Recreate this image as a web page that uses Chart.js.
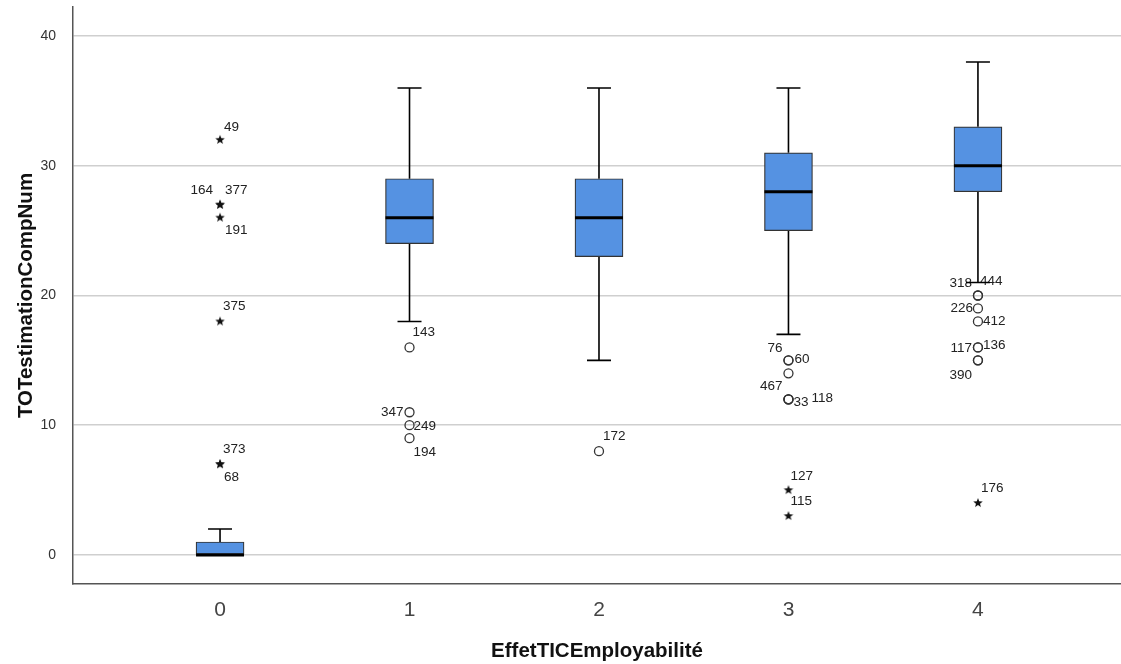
<!DOCTYPE html>
<html><head><meta charset="utf-8">
<script src="https://cdn.jsdelivr.net/npm/chart.js@4.4.0/dist/chart.umd.min.js"></script>
<style>html,body{margin:0;padding:0;background:#fff;overflow:hidden}</style>
</head><body>
<canvas id="c" width="1121" height="664"></canvas>
<script>
// ---- data ----
const categories = ['0','1','2','3','4'];
const whiskerLow  = [0,18,15,17,21];
const q1          = [0,24,23,25,28];
const median      = [0,26,26,28,30];
const q3          = [1,29,29,31,33];
const whiskerHigh = [2,36,36,36,38];
const outlierCat   = [1,1,1,1, 2, 3,3,3,3,3,3, 4,4,4,4,4,4,4,4];
const outlierValue = [16,11,10,9, 8, 15,15,14,12,12,12, 20,20,19,18,16,16,15,15];
const outlierId    = ['143','347','249','194','172','76','60','','467','33','118','318','444','226','412','117','136','390',''];
const extremeCat   = [0,0,0,0,0,0,0,3,3,4];
const extremeValue = [32,27,27,26,18,7,7,5,3,4];
const extremeId    = ['49','164','377','191','375','373','68','127','115','176'];
const yTicks = [0,10,20,30,40];
const xTitle = 'EffetTICEmployabilité';
const yTitle = 'TOTestimationCompNum';

// ---- layout of id labels (pixel offsets from marker, anchor side) ----
const outlierLabelPos = [[3,-15,'l'],[-6,0,'r'],[4,1,'l'],[4,14,'l'],[4,-15,'l'],[-6,-12,'r'],[6,-1,'l'],[0,0,'l'],[-6,-13,'r'],[5,3,'l'],[23,-1,'l'],[-6,-12,'r'],[2,-14,'l'],[-5,0,'r'],[5,0,'l'],[-6,1,'r'],[5,-2,'l'],[-6,15,'r'],[0,0,'l']];
const extremeLabelPos = [[4,-13,'l'],[-7,-14,'r'],[5,-14,'l'],[5,13,'l'],[3,-15,'l'],[3,-15,'l'],[4,13,'l'],[2,-14,'l'],[2,-15,'l'],[3,-15,'l']];

const FONT = '"Liberation Sans", Arial, sans-serif';
Chart.defaults.font.family = FONT;

const catPx = 189.5;
const capHalf = 12 / catPx;
const boxHalf = 24 / catPx;

const whiskerPts = [];
const medianPts = [];
categories.forEach((c, i) => {
  whiskerPts.push({x:i, y:q3[i]}, {x:i, y:whiskerHigh[i]}, {x:i, y:null});
  whiskerPts.push({x:i-capHalf, y:whiskerHigh[i]}, {x:i+capHalf, y:whiskerHigh[i]}, {x:i, y:null});
  if (whiskerLow[i] < q1[i]) {
    whiskerPts.push({x:i, y:q1[i]}, {x:i, y:whiskerLow[i]}, {x:i, y:null});
    whiskerPts.push({x:i-capHalf, y:whiskerLow[i]}, {x:i+capHalf, y:whiskerLow[i]}, {x:i, y:null});
  }
  medianPts.push({x:i-boxHalf, y:median[i]}, {x:i+boxHalf, y:median[i]}, {x:i, y:null});
});

function makeStar(r) {
  const s = Math.ceil(r * 2 + 2);
  const c = document.createElement('canvas');
  c.width = c.height = s;
  const g = c.getContext('2d');
  g.fillStyle = '#111';
  g.beginPath();
  for (let k = 0; k < 10; k++) {
    const a = -Math.PI / 2 + k * Math.PI / 5;
    const rr = (k % 2) ? r * 0.42 : r;
    g.lineTo(s / 2 + rr * Math.cos(a), s / 2 + rr * Math.sin(a));
  }
  g.closePath();
  g.fill();
  return c;
}
const starImg = makeStar(5);

const idLabels = {
  id: 'idLabels',
  beforeDatasetsDraw(chart) {
    const {ctx, scales:{x, y}} = chart;
    ctx.save();
    ctx.font = '13.5px ' + FONT;
    ctx.fillStyle = '#222';
    ctx.textBaseline = 'middle';
    const draw = (cats, vals, ids, pos) => {
      ids.forEach((t, k) => {
        if (!t) return;
        const px = x.getPixelForValue(cats[k]);
        const py = y.getPixelForValue(vals[k]);
        const [dx, dy, side] = pos[k];
        ctx.textAlign = side === 'r' ? 'right' : 'left';
        ctx.fillText(t, px + dx, py + dy);
      });
    };
    draw(outlierCat, outlierValue, outlierId, outlierLabelPos);
    draw(extremeCat, extremeValue, extremeId, extremeLabelPos);
    ctx.restore();
  }
};

new Chart(document.getElementById('c'), {
  type: 'bar',
  data: {
    datasets: [
      { type:'line', data: medianPts, borderColor:'#000', borderWidth:3, pointRadius:0, spanGaps:false, order:0 },
      { type:'scatter', data: outlierValue.map((v,k)=>({x:outlierCat[k], y:v})), pointStyle:'circle', pointRadius:4.5,
        pointBackgroundColor:'rgba(255,255,255,0)', pointBorderColor:'#333', pointBorderWidth:1.3, order:1 },
      { type:'scatter', data: extremeValue.map((v,k)=>({x:extremeCat[k], y:v})), pointStyle: starImg, pointRadius:5, order:1 },
      { type:'bar', data: categories.map((c,i)=>({x:i, y:[q1[i], q3[i]]})), barThickness:48, backgroundColor:'#5592E2',
        borderColor:'#333', borderWidth:1.2, borderSkipped:false, order:2 },
      { type:'line', data: whiskerPts, borderColor:'#000', borderWidth:1.6, pointRadius:0, spanGaps:false, order:3 }
    ]
  },
  options: {
    responsive:false,
    animation:false,
    events:[],
    layout:{ autoPadding:false, padding:{ top:7, left:0, right:0, bottom:0 } },
    plugins:{ legend:{display:false}, tooltip:{enabled:false} },
    scales:{
      x:{
        type:'linear', min:-0.776, max:4.755, offset:false,
        afterBuildTicks: s => { s.ticks = categories.map((c,i)=>({value:i})); },
        afterFit: s => { s.height = 80; s.paddingLeft = 0; s.paddingRight = 0; },
        ticks:{ callback: v => categories[v], font:{size:21}, color:'#444', padding:14, autoSkip:false, maxRotation:0 },
        grid:{ display:false, drawTicks:false, offset:false },
        border:{ color:'#555', width:1.5 },
        title:{ display:true, text:xTitle, font:{size:20.5, weight:'bold'}, color:'#111', padding:{top:0, bottom:0} }
      },
      y:{
        type:'linear', min:-2.24, max:42.24,
        afterBuildTicks: s => { s.ticks = yTicks.map(v=>({value:v})); },
        afterFit: s => { s.width = 73; s.paddingTop = 0; s.paddingBottom = 0; },
        ticks:{ font:{size:14}, color:'#333', padding:17 },
        grid:{ color:'#cfcfcf', lineWidth:1.5, drawTicks:false },
        border:{ color:'#555', width:1.5 },
        title:{ display:true, text:yTitle, font:{size:20.5, weight:'bold'}, color:'#111', padding:{top:14, bottom:0} }
      }
    }
  },
  plugins:[idLabels]
});
</script>
</body></html>
